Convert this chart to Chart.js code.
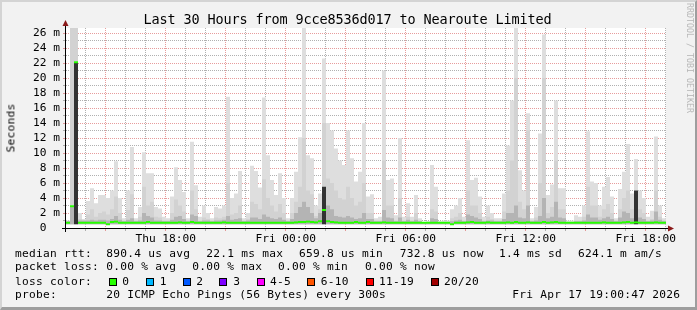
<!DOCTYPE html>
<html>
<head>
<meta charset="utf-8">
<script src="https://cdn.jsdelivr.net/npm/chart.js@4.4.1/dist/chart.umd.min.js"></script>
<style>
  html, body { margin: 0; padding: 0; background: #f2f2f2; }
  #frame { position: relative; width: 697px; height: 310px; background: #f2f2f2; overflow: hidden;
           font-family: "DejaVu Sans Mono", monospace; color: #000; }
  #chart { position: absolute; left: 0; top: 0; }
  #shade { position: absolute; left: 0; top: 0; width: 697px; height: 310px; box-sizing: border-box;
           border-style: solid; border-width: 2px 2px 3px 2px;
           border-color: #d4d4d4 #9e9e9e #9e9e9e #d4d4d4; pointer-events: none; }
  .t { position: absolute; white-space: pre; font-size: 11.2px; line-height: 1; letter-spacing: 0.26px; }
  .title { position: absolute; left: 0; width: 695px; top: 12.6px; text-align: center; white-space: pre;
           font-size: 13.5px; line-height: 1; letter-spacing: -0.13px; }
  .box { position: absolute; width: 6px; height: 6px; border: 1px solid #000; top: 278px; }
  .ylab { position: absolute; left: 10.5px; top: 127.5px; font-size: 11.2px; line-height: 1; letter-spacing: 0.26px;
          white-space: pre; transform: translate(-50%, -50%) rotate(-90deg); }
  .mark { position: absolute; left: 694px; top: 3px; font-size: 8.3px; line-height: 1; color: #b8b8b8;
          white-space: pre; transform-origin: 0 0; transform: rotate(90deg); }
</style>
</head>
<body>
<div id="frame">
  <canvas id="chart" width="697" height="310"></canvas>
  <div class="title">Last 30 Hours from 9cce8536d017 to Nearoute Limited</div>
  <div class="ylab">Seconds</div>
  <div class="mark">RRDTOOL / TOBI OETIKER</div>

  <span class="t" style="left:15px;top:248.2px">median rtt:</span>
  <span class="t" style="left:106.3px;top:248.2px">890.4 us avg</span>
  <span class="t" style="left:206.3px;top:248.2px">22.1 ms max</span>
  <span class="t" style="left:299px;top:248.2px">659.8 us min</span>
  <span class="t" style="left:399.7px;top:248.2px">732.8 us now</span>
  <span class="t" style="left:499px;top:248.2px">1.4 ms sd</span>
  <span class="t" style="left:578px;top:248.2px">624.1 m am/s</span>

  <span class="t" style="left:15px;top:261.2px">packet loss:</span>
  <span class="t" style="left:106.3px;top:261.2px">0.00 % avg</span>
  <span class="t" style="left:192.3px;top:261.2px">0.00 % max</span>
  <span class="t" style="left:278px;top:261.2px">0.00 % min</span>
  <span class="t" style="left:365px;top:261.2px">0.00 % now</span>

  <span class="t" style="left:15px;top:275.8px">loss color:</span>
  <div class="box" style="left:108.5px;background:#26ff00"></div><span class="t" style="left:122.3px;top:275.8px">0</span>
  <div class="box" style="left:145.5px;background:#00b8ff"></div><span class="t" style="left:159.7px;top:275.8px">1</span>
  <div class="box" style="left:182.5px;background:#0059ff"></div><span class="t" style="left:196.3px;top:275.8px">2</span>
  <div class="box" style="left:219.3px;background:#7e00ff"></div><span class="t" style="left:233.3px;top:275.8px">3</span>
  <div class="box" style="left:256.5px;background:#ff00ff"></div><span class="t" style="left:270px;top:275.8px">4-5</span>
  <div class="box" style="left:307.3px;background:#ff5500"></div><span class="t" style="left:320.7px;top:275.8px">6-10</span>
  <div class="box" style="left:366px;background:#ff0000"></div><span class="t" style="left:379px;top:275.8px">11-19</span>
  <div class="box" style="left:431px;background:#a00000"></div><span class="t" style="left:444px;top:275.8px">20/20</span>

  <span class="t" style="left:15px;top:288.8px">probe:</span>
  <span class="t" style="left:106.3px;top:288.8px">20 ICMP Echo Pings (56 Bytes) every 300s</span>
  <span class="t" style="left:512.3px;top:288.8px">Fri Apr 17 19:00:47 2026</span>

  <div id="shade"></div>
</div>
<script>
// time axis: hours counted from Thu 00:00, window Thu 13:00:47 .. Fri 19:00:47
const startHour = 13 + 47 / 3600;
const endHour = startHour + 30;
const binHours = 0.2; // 12 minute bins

const hourTicks = [14, 15, 16, 17, 18, 19, 20, 21, 22, 23, 24, 25, 26, 27, 28,
                   29, 30, 31, 32, 33, 34, 35, 36, 37, 38, 39, 40, 41, 42, 43];
const xLabelHours = [18, 24, 30, 36, 42];
const xLabels = ['Thu 18:00', 'Fri 00:00', 'Fri 06:00', 'Fri 12:00', 'Fri 18:00'];

const yTicks = [0, 1, 2, 3, 4, 5, 6, 7, 8, 9, 10, 11, 12, 13, 14, 15, 16, 17, 18, 19, 20,
                21, 22, 23, 24, 25, 26];

// ping spread (ms) per bin
const smokeFloor = 0.5;
const smokeMax = [
  1.0, 27, 27, 2.0, 1.2, 3.6, 5.3, 3.3, 4.4, 4.4,
  4.0, 5.0, 8.9, 4.0, 1.3, 5.0, 10.8, 1.3, 2.8, 10.1,
  7.3, 7.3, 2.8, 2.6, 1.5, 1.3, 4.2, 8.1, 6.4, 4.8,
  1.3, 11.5, 5.7, 1.5, 3.0, 2.0, 1.3, 2.8, 2.6, 3.0,
  17.5, 4.0, 4.6, 7.6, 1.3, 2.0, 8.3, 7.6, 5.4, 17.4,
  9.7, 6.4, 4.4, 7.3, 4.0, 1.3, 4.0, 7.5, 12.1, 27,
  9.7, 9.3, 3.0, 4.6, 22.6, 14.0, 13.0, 10.6, 9.0, 8.4,
  13.0, 9.3, 6.2, 7.5, 14.0, 4.2, 4.5, 1.3, 1.5, 21.0,
  6.4, 6.6, 1.7, 12.0, 1.5, 3.3, 1.5, 4.4, 1.3, 0.8,
  0.9, 8.4, 5.5, 0.9, 1.0, 1.0, 2.5, 3.0, 4.0, 1.5,
  11.7, 6.4, 6.7, 4.2, 1.5, 3.0, 2.0, 1.3, 1.3, 4.6,
  11.0, 17.0, 27, 7.7, 5.0, 15.3, 1.3, 2.8, 12.6, 25.8,
  4.4, 5.8, 17.0, 5.3, 5.3, 1.0, 1.0, 1.7, 1.5, 3.0,
  12.9, 6.2, 6.0, 3.0, 5.5, 6.8, 4.2, 1.3, 5.2, 7.5,
  11.2, 4.6, 9.2, 5.0, 4.0, 1.5, 2.3, 12.2, 3.0, 1.3
];
const smokeMid = [
  0.9, 27, 27, 1.2, 1.0, 1.8, 2.5, 1.5, 2.0, 2.2,
  1.8, 2.5, 4.2, 2.0, 1.0, 2.4, 4.5, 1.0, 1.5, 5.5,
  3.0, 3.5, 1.5, 1.4, 1.0, 1.0, 2.0, 3.8, 3.0, 2.2,
  1.0, 5.0, 2.5, 1.0, 1.4, 1.2, 1.0, 1.4, 1.3, 1.5,
  6.0, 1.8, 2.0, 3.0, 1.0, 1.2, 3.5, 3.2, 2.5, 6.5,
  4.0, 3.0, 2.2, 3.2, 2.0, 1.0, 2.0, 3.5, 5.5, 12.0,
  5.0, 4.5, 1.6, 2.5, 14.0, 6.6, 6.0, 5.0, 4.0, 3.8,
  5.5, 4.0, 3.0, 3.5, 6.0, 2.0, 2.0, 1.0, 1.0, 9.0,
  3.0, 3.0, 1.0, 4.0, 1.0, 1.5, 1.0, 2.0, 1.0, 0.8,
  0.8, 2.5, 2.2, 0.8, 0.8, 0.8, 1.3, 1.5, 2.0, 1.0,
  5.0, 3.0, 3.0, 2.0, 1.0, 1.5, 1.2, 1.0, 1.0, 2.2,
  5.0, 9.0, 20.0, 3.5, 2.5, 13.0, 1.0, 1.4, 6.0, 20.0,
  2.0, 2.8, 9.0, 2.5, 2.5, 0.8, 0.8, 1.0, 1.0, 1.5,
  5.5, 3.0, 3.0, 1.5, 2.5, 3.2, 2.0, 1.0, 2.5, 4.0,
  5.0, 2.5, 4.5, 2.5, 2.0, 1.0, 1.2, 5.0, 1.5, 1.0
];
const smokeDark = [
  0.9, 2.9, 22, 1.0, 1.0, 1.0, 1.1, 1.0, 1.1, 1.1,
  1.0, 1.2, 1.6, 1.1, 0.9, 1.1, 1.3, 0.9, 1.0, 2.0,
  1.6, 1.4, 1.0, 1.0, 0.9, 0.9, 1.1, 1.5, 1.6, 1.2,
  0.9, 1.8, 1.6, 0.9, 1.0, 1.0, 0.9, 1.0, 1.0, 1.1,
  1.6, 1.1, 1.2, 1.3, 0.9, 1.0, 1.4, 1.4, 1.2, 1.8,
  1.5, 1.3, 1.2, 1.4, 1.1, 0.9, 1.2, 2.0, 2.8, 3.5,
  2.8, 2.0, 1.3, 2.0, 5.5, 3.0, 2.5, 1.6, 1.5, 1.4,
  1.6, 1.4, 1.2, 1.3, 2.0, 1.2, 1.2, 0.9, 0.9, 2.4,
  1.4, 1.3, 0.9, 1.4, 0.9, 1.1, 0.9, 1.1, 0.9, 0.8,
  0.8, 1.3, 1.2, 0.8, 0.8, 0.8, 0.9, 1.0, 1.1, 0.9,
  1.8, 1.6, 1.4, 1.2, 0.9, 1.0, 1.0, 0.9, 0.9, 1.2,
  2.0, 2.0, 3.0, 1.4, 1.3, 3.0, 0.9, 1.0, 1.6, 4.0,
  1.3, 1.5, 3.5, 1.4, 1.3, 0.8, 0.8, 0.9, 0.9, 1.0,
  1.8, 1.4, 1.4, 1.1, 1.3, 1.5, 1.2, 0.9, 1.4, 2.2,
  2.0, 1.3, 5.0, 1.4, 1.2, 0.9, 1.0, 2.2, 1.1, 0.9
];
// median rtt (ms), 0 % loss all the way
const medianRtt = [
  0.7, 2.9, 22.1, 0.7, 0.7, 0.7, 0.7, 0.7, 0.7, 0.7,
  0.5, 0.8, 0.85, 0.7, 0.7, 0.7, 0.7, 0.7, 0.7, 0.7,
  0.8, 0.7, 0.7, 0.7, 0.7, 0.7, 0.7, 0.7, 0.75, 0.7,
  0.7, 0.8, 0.7, 0.7, 0.7, 0.7, 0.7, 0.7, 0.7, 0.75,
  0.7, 0.7, 0.7, 0.7, 0.7, 0.7, 0.7, 0.7, 0.7, 0.7,
  0.7, 0.7, 0.7, 0.7, 0.7, 0.7, 0.7, 0.75, 0.8, 0.8,
  0.85, 0.8, 0.75, 0.9, 2.4, 0.9, 0.8, 0.75, 0.7, 0.7,
  0.7, 0.7, 0.8, 0.7, 0.7, 0.8, 0.7, 0.7, 0.7, 0.75,
  0.7, 0.7, 0.7, 0.7, 0.7, 0.7, 0.7, 0.7, 0.7, 0.7,
  0.7, 0.7, 0.7, 0.7, 0.7, 0.7, 0.5, 0.7, 0.7, 0.7,
  0.75, 0.8, 0.7, 0.7, 0.7, 0.75, 0.7, 0.7, 0.7, 0.7,
  0.75, 0.7, 0.8, 0.7, 0.7, 0.75, 0.7, 0.7, 0.7, 0.8,
  0.7, 0.75, 0.8, 0.7, 0.7, 0.7, 0.7, 0.7, 0.7, 0.7,
  0.7, 0.7, 0.7, 0.7, 0.75, 0.7, 0.7, 0.7, 0.7, 0.75,
  0.8, 0.7, 0.75, 0.7, 0.7, 0.7, 0.7, 0.75, 0.7, 0.7
];

const binTimes = smokeMax.map((_, i) => startHour + binHours * (i + 0.5));

function floatingBars(tops) {
  return tops.map((t, i) => ({ x: binTimes[i], y: [smokeFloor, t] }));
}

const monoFont = { family: "'DejaVu Sans Mono', monospace", size: 11.2 };
const minorGrid = 'rgba(150,150,150,0.75)';
const majorGrid = 'rgba(215,90,90,0.6)';

// white plot area plus rrdtool style axes with arrow heads
const rrdFrame = {
  id: 'rrdFrame',
  beforeDraw(chart) {
    const { ctx, chartArea: a } = chart;
    ctx.save();
    ctx.fillStyle = '#ffffff';
    ctx.fillRect(a.left, a.top, a.right - a.left, a.bottom - a.top);
    ctx.restore();
  },
  afterDraw(chart) {
    const { ctx, chartArea: a } = chart;
    ctx.save();
    ctx.strokeStyle = '#000000';
    ctx.lineWidth = 1;
    ctx.beginPath();
    ctx.moveTo(a.left - 4, a.bottom + 0.5);
    ctx.lineTo(a.right + 2, a.bottom + 0.5);
    ctx.moveTo(a.left - 0.5, a.bottom + 4);
    ctx.lineTo(a.left - 0.5, a.top - 2);
    ctx.stroke();
    ctx.fillStyle = '#8b1a1a';
    ctx.beginPath();
    ctx.moveTo(a.right + 8, a.bottom + 0.5);
    ctx.lineTo(a.right + 2, a.bottom - 2.5);
    ctx.lineTo(a.right + 2, a.bottom + 3.5);
    ctx.fill();
    ctx.beginPath();
    ctx.moveTo(a.left - 0.5, a.top - 8);
    ctx.lineTo(a.left - 3.5, a.top - 2);
    ctx.lineTo(a.left + 2.5, a.top - 2);
    ctx.fill();
    ctx.restore();
  }
};

const barBase = {
  type: 'bar',
  grouped: false,
  barPercentage: 1,
  categoryPercentage: 1,
  borderWidth: 0,
  inflateAmount: 0
};

new Chart(document.getElementById('chart'), {
  type: 'bar',
  data: {
    datasets: [
      Object.assign({}, barBase, {
        label: 'median',
        order: 0,
        backgroundColor: '#26ff00',
        data: medianRtt.map((m, i) => ({ x: binTimes[i], y: [m - 0.13, m + 0.13] }))
      }),
      Object.assign({}, barBase, {
        label: 'dark',
        order: 1,
        backgroundColor: ctx => (ctx.raw && ctx.raw.y[1] >= 4.5 ? '#333333' : '#b4b4b4'),
        data: floatingBars(smokeDark)
      }),
      Object.assign({}, barBase, {
        label: 'mid',
        order: 2,
        backgroundColor: '#d2d2d2',
        data: floatingBars(smokeMid)
      }),
      Object.assign({}, barBase, {
        label: 'max',
        order: 3,
        backgroundColor: '#dedede',
        data: floatingBars(smokeMax)
      })
    ]
  },
  options: {
    responsive: false,
    animation: false,
    devicePixelRatio: 1,
    layout: { padding: { left: 0, right: 31, top: 28, bottom: 62 } },
    plugins: {
      legend: { display: false },
      tooltip: { enabled: false },
      title: { display: false }
    },
    scales: {
      x: {
        type: 'linear',
        min: startHour,
        max: endHour,
        offset: false,
        z: 1,
        grid: {
          offset: false,
          lineWidth: 1,
          tickLength: 3,
          color: c => (c.tick && c.tick.value % 3 === 0 ? majorGrid : minorGrid)
        },
        border: { display: false, dash: [1, 1] },
        afterBuildTicks: s => { s.ticks = hourTicks.map(v => ({ value: v })); },
        afterFit: s => { s.height = 20; },
        ticks: {
          autoSkip: false,
          maxRotation: 0,
          padding: 1,
          color: '#000',
          font: monoFont,
          callback: v => {
            const k = xLabelHours.indexOf(v);
            return k < 0 ? '' : xLabels[k];
          }
        }
      },
      y: {
        min: 0,
        max: 26.67,
        z: 1,
        grid: {
          lineWidth: 1,
          tickLength: 3,
          color: c => (c.tick && c.tick.value % 2 === 0 ? majorGrid : minorGrid)
        },
        border: { display: false, dash: [1, 1] },
        afterBuildTicks: s => { s.ticks = yTicks.map(v => ({ value: v })); },
        afterFit: s => { s.width = 66; },
        ticks: {
          autoSkip: false,
          padding: 3,
          color: '#000',
          font: monoFont,
          callback: v => (v === 0 ? '0  ' : (v % 2 === 0 ? v + ' m' : ''))
        }
      }
    }
  },
  plugins: [rrdFrame]
});
</script>
</body>
</html>
